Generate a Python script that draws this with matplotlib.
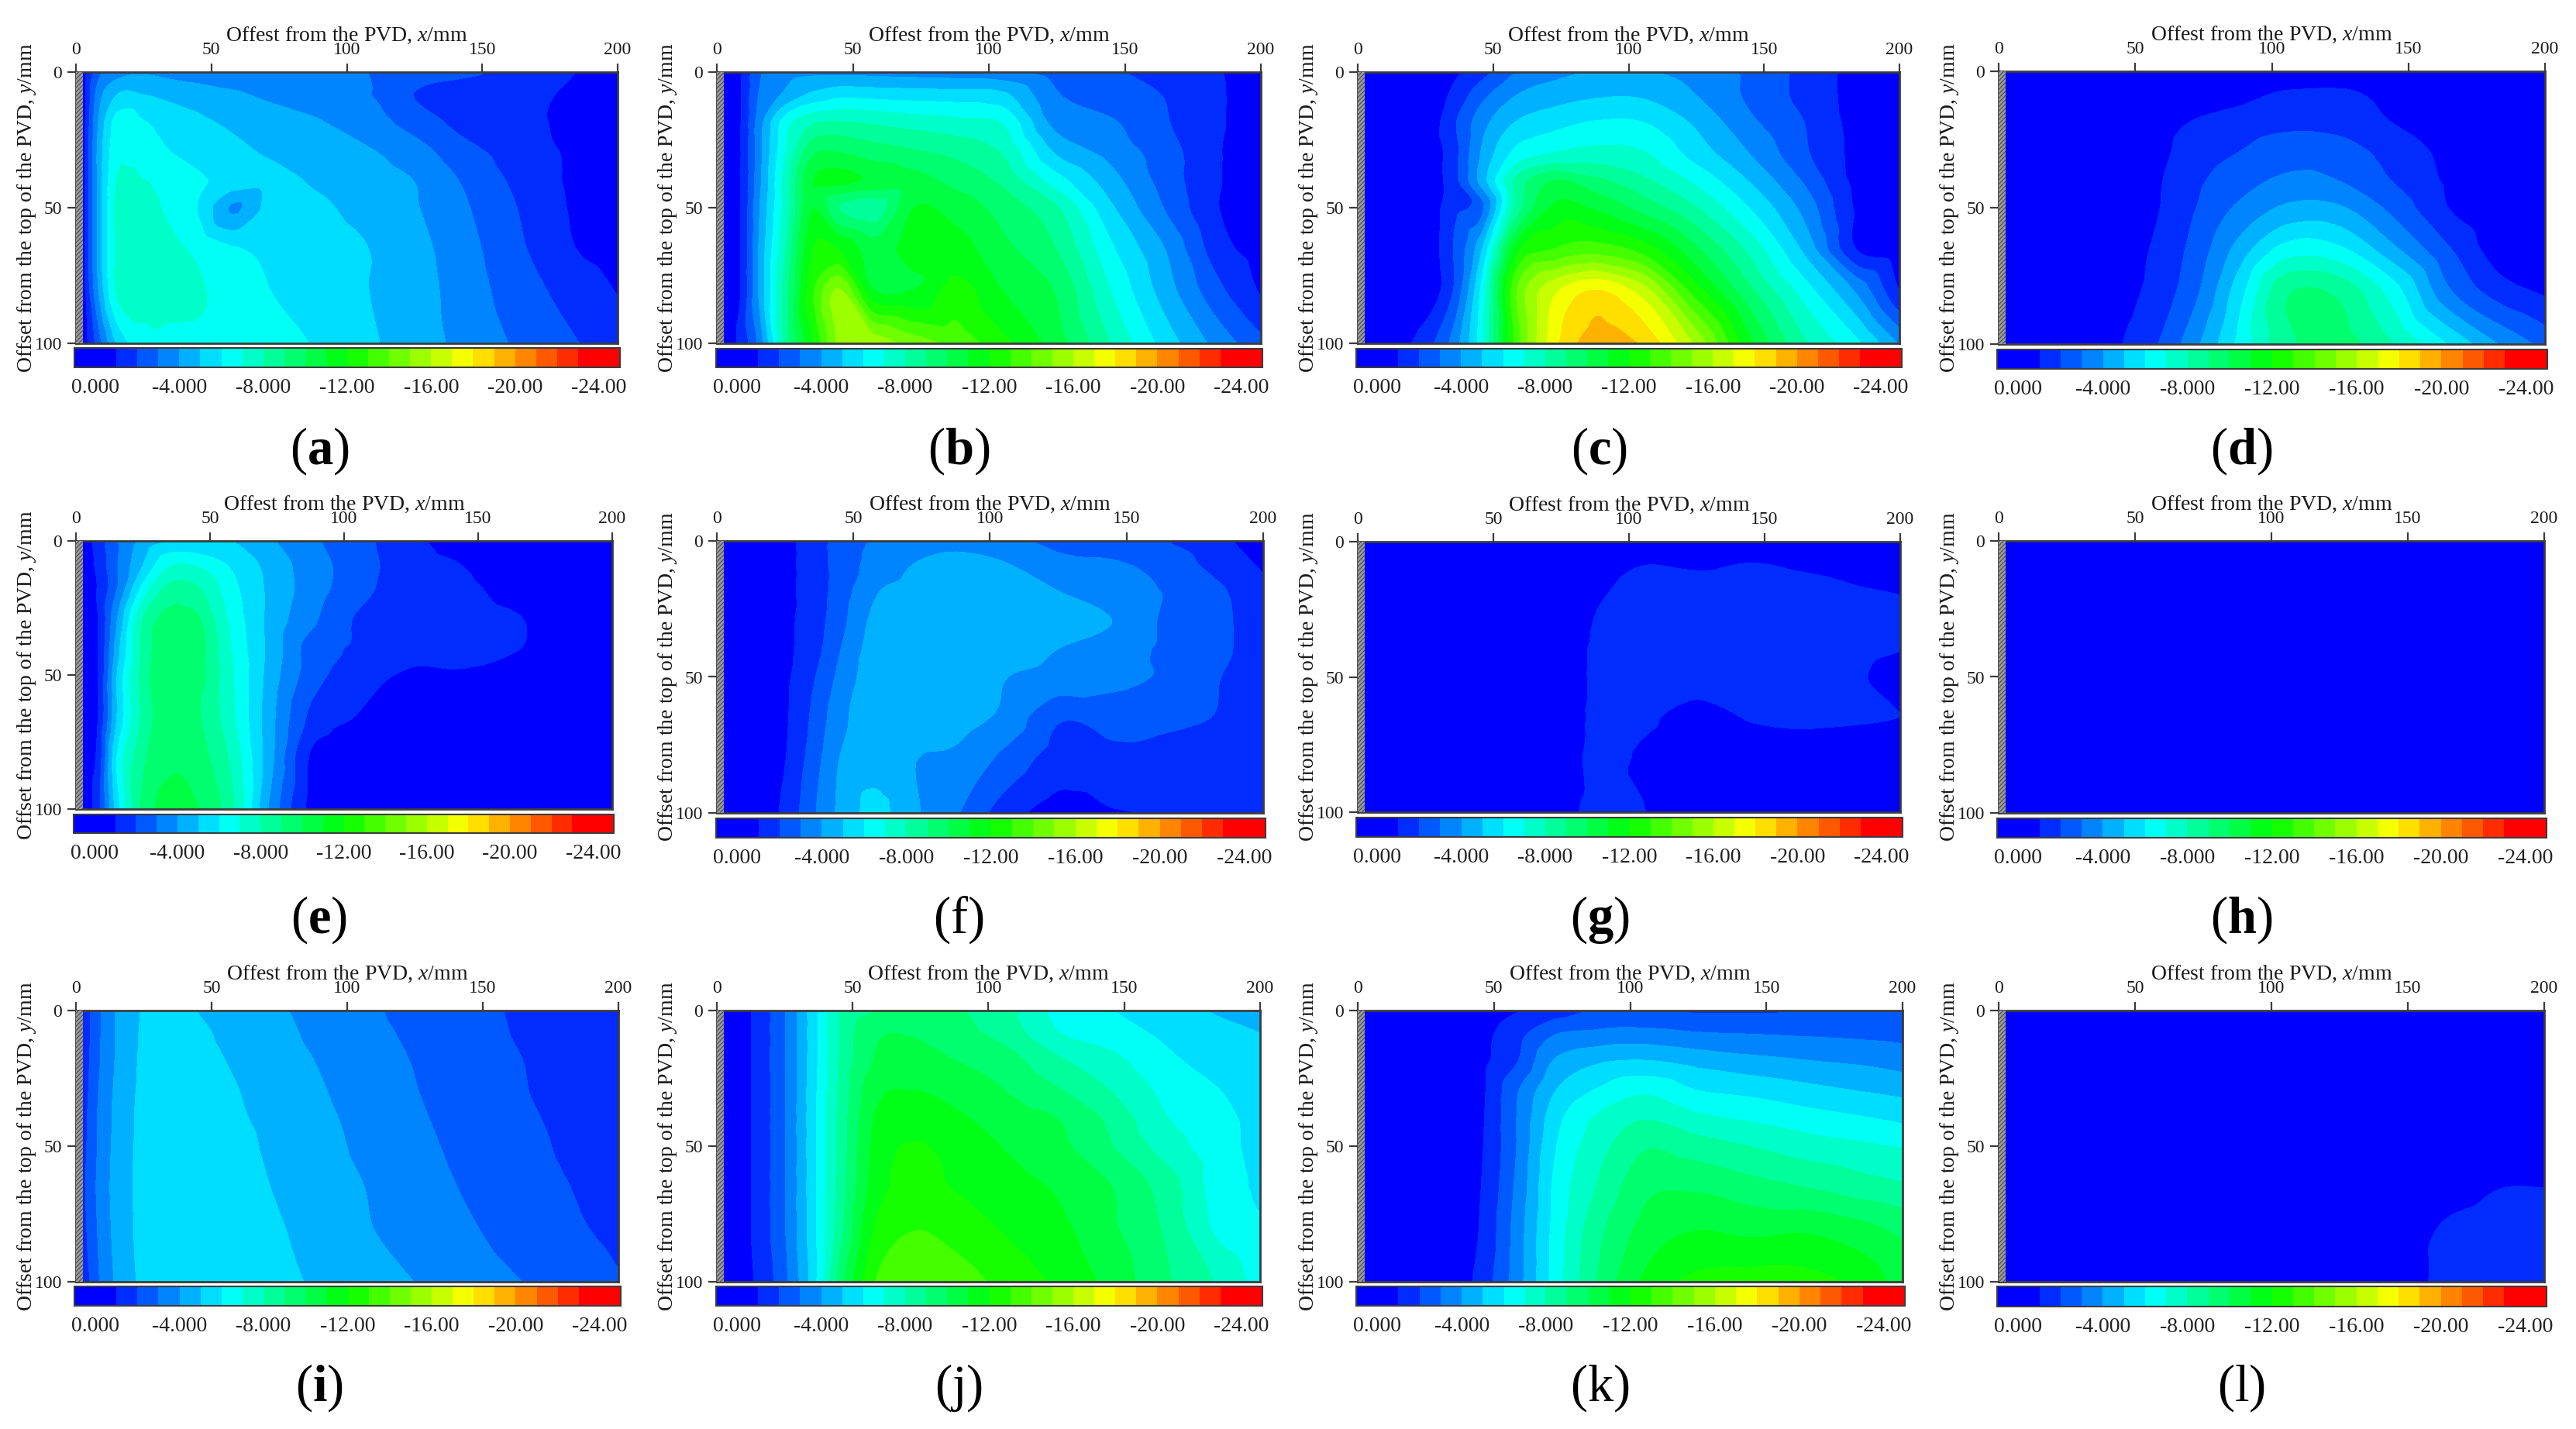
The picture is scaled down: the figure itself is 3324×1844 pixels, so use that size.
import numpy as np
import matplotlib
matplotlib.use("Agg")
import matplotlib.pyplot as plt
import matplotlib.tri as mtri
from matplotlib.colors import BoundaryNorm, ListedColormap
from matplotlib.patches import Rectangle

plt.rcParams['font.family'] = ['Liberation Serif', 'DejaVu Serif']
plt.rcParams['mathtext.fontset'] = 'custom'
plt.rcParams['mathtext.rm'] = 'Liberation Serif'
plt.rcParams['mathtext.it'] = 'Liberation Serif:italic'
plt.rcParams['mathtext.bf'] = 'Liberation Serif:bold'
plt.rcParams['hatch.linewidth'] = 0.8

# 读图得到的网格 (mm)
x_mm = [2.5, 8, 15, 25, 35, 45, 58, 72, 88, 105, 125, 145, 165, 185, 200]
y_mm = [0, 8, 18, 30, 40, 50, 65, 80, 100]

# 每个子图的沉降量绝对值，一行对应一个 y_mm
panel_a = [
    [.5, 2.7, 3.6, 3.9, 3.7, 3.5, 3.4, 3.3, 3.2, 3.05, 2.6, 2.2, 1.6, 1, .5],
    [.5, 3.5, 5, 5, 4.7, 4.5, 4.15, 3.8, 3.5, 3.2, 2, 1.5, 1.25, .85, .5],
    [.6, 4, 6.4, 6.05, 5.6, 5.2, 4.8, 4.45, 4.1, 3.55, 2.6, 1.6, 1.2, .8, .5],
    [.7, 4.3, 6.7, 6.4, 6.05, 5.7, 5.3, 4.9, 4.6, 4.25, 3.5, 2.3, 1.6, .8, .5],
    [.7, 4.3, 7.1, 7.05, 6.6, 6.15, 5.7, 5.35, 4.9, 4.5, 4, 2.8, 1.7, .8, .5],
    [.7, 4.3, 7.3, 7.3, 6.8, 6, 3.9, 5.4, 5.2, 4.75, 4.1, 3.05, 1.9, .85, .5],
    [.7, 4.3, 7.2, 7.4, 7.2, 6.8, 6.1, 5.8, 5.45, 5.1, 4.35, 3.3, 2.1, 1, .6],
    [.6, 4, 7.2, 7.4, 7.3, 7.1, 6.6, 6, 5.5, 5.1, 4.45, 3.45, 2.4, 1.55, .95],
    [.4, 2.5, 5.2, 6.6, 6.8, 6.85, 6.7, 6.4, 5.95, 5.3, 4.5, 3.65, 2.8, 2.05, 1.5],
]
panel_b = [
    [.2, .8, 2.8, 3.6, 3.8, 3.8, 3.7, 3.6, 3.5, 3.3, 2.6, 2.2, 1.5, 1.05, .5],
    [.3, .85, 3, 4.2, 5.2, 5.7, 5.6, 5.5, 5.4, 5.2, 3.1, 2.4, 1.95, 1.1, .5],
    [.3, .85, 3.4, 6.5, 7.8, 8, 7.8, 7.5, 7.25, 6.9, 3.6, 3.1, 2.1, 1.1, .5],
    [.3, .85, 3.5, 7, 9.9, 10.1, 9.6, 9.25, 8.8, 8, 4.95, 3.7, 2.5, 1.05, .5],
    [.3, .85, 3.6, 7.5, 11, 11.3, 10.8, 10.4, 9.7, 8.8, 6.5, 4.45, 2.6, 1.05, .5],
    [.3, .85, 3.8, 7.5, 11, 9, 8.5, 11, 10.6, 9.6, 8.15, 5.2, 2.95, 1, .5],
    [.3, .85, 4, 8, 12, 12, 10.5, 11.5, 11.4, 10.3, 9, 6.2, 4, 1.4, .6],
    [.3, .85, 4, 8.5, 12.8, 15.1, 11, 11, 12.4, 11, 9.9, 7, 4.5, 2.2, .9],
    [.3, 1.2, 3.2, 8.4, 12, 15.3, 15.6, 14.7, 13.7, 12.3, 10.5, 8, 5.6, 3.6, 2.3],
]
panel_c = [
    [0, 0, 0, .2, .8, 1.6, 3, 3.7, 4.1, 4.1, 3.6, 2.8, 1.7, .65, .3],
    [0, 0, 0, .3, 1.2, 2.6, 3.95, 4.5, 4.85, 4.85, 4, 2.8, 1.7, .65, .3],
    [0, 0, 0, .3, 1.8, 3.5, 5, 5.6, 6.05, 6, 4.8, 3.2, 2, .65, .3],
    [0, 0, 0, .3, 1.6, 4, 6.3, 7.1, 7.4, 7.15, 5.6, 4, 2.2, .7, .3],
    [0, 0, 0, .3, 1.6, 4.3, 8.2, 10.1, 9.3, 8.3, 6.8, 4.95, 2.9, .7, .3],
    [0, 0, 0, .3, 1.7, 2.6, 8.3, 11.2, 10.9, 9.7, 8.1, 6, 3.7, .8, .3],
    [0, 0, 0, .3, 2, 4.7, 11.5, 13, 13.5, 12.6, 10.2, 7.7, 4.8, .9, .4],
    [0, 0, 0, .3, 2, 6, 13.8, 16.7, 18, 16.5, 12.4, 9.2, 6.5, 3.7, 1],
    [0, 0, .6, 1.6, 3.4, 6.5, 13.3, 17.6, 19.5, 18.9, 15.8, 11.3, 8.2, 6.2, 4],
]
panel_d = [
    [0, 0, 0, 0, 0, 0, .1, .2, .3, .4, .4, .3, .2, .1, .05],
    [0, 0, 0, 0, 0, 0, .1, .3, .7, 1.1, 1.15, .7, .3, .1, .05],
    [0, 0, 0, 0, 0, .1, .6, 1.05, 1.4, 1.7, 1.6, .95, .4, .1, .1],
    [0, 0, 0, 0, 0, .2, .75, 1.5, 2.05, 2.6, 2.5, 1.6, .75, .2, .1],
    [0, 0, 0, 0, 0, .3, .9, 1.8, 2.6, 3.2, 3, 1.95, .85, .2, .1],
    [0, 0, 0, 0, 0, .3, .95, 2, 3.2, 4.2, 4.15, 2.7, 1, .3, .1],
    [0, 0, 0, 0, 0, .5, 1.2, 2.4, 4.4, 6.4, 6.2, 4.2, 2.1, .4, .1],
    [0, 0, 0, 0, 0, .6, 1.4, 2.8, 5.6, 8.8, 8.7, 6.4, 3.1, 1.4, .8],
    [0, 0, 0, 0, 0, 1, 2, 3.8, 6.3, 8.7, 9.4, 8.05, 6, 3.85, 2.7],
]
panel_e = [
    [.3, 1.5, 2.9, 4.4, 5, 5, 5, 4.2, 3.2, 2.4, 1.25, .6, .2, 0, 0],
    [.3, 1.3, 2.9, 5, 6.8, 6.8, 5.8, 4.7, 3.45, 2.5, 1.4, .95, .3, 0, 0],
    [.4, 1.1, 3, 6.5, 8.4, 8.2, 6.4, 4.85, 3.5, 2.4, 1.4, 1.2, .6, .1, 0],
    [.4, 1, 4, 8.2, 9.4, 9.3, 6.8, 4.8, 3.2, 1.9, 1.6, 1.4, 1.1, .2, 0],
    [.4, 1, 4.5, 8.3, 9.8, 9.6, 7, 4.8, 2.6, 1.85, 1.3, 1.3, 1.05, .2, 0],
    [.4, 1, 5, 8.5, 9.8, 9.5, 7.2, 4.7, 2.5, 1.45, .9, .9, .4, 0, 0],
    [.3, 1, 5, 8.3, 9.7, 9.2, 7.3, 4.5, 1.8, 1, .4, .1, 0, 0, 0],
    [.3, 1.3, 6, 8.8, 9.8, 9.5, 7.8, 4.5, .9, .4, .1, 0, 0, 0, 0],
    [.3, 1.6, 5.5, 9.3, 10.4, 10.1, 8.3, 4, .7, .2, 0, 0, 0, 0, 0],
]
panel_f = [
    [.3, .3, .3, .8, 1.4, 2.5, 3.1, 3.5, 3.7, 3.4, 2.7, 2.45, 2, 1.2, .5],
    [.3, .3, .3, .8, 1.4, 2.5, 3.3, 4, 4.3, 4.05, 3.3, 3.1, 2.6, 1.5, .85],
    [.2, .3, .3, .8, 1.4, 2.5, 3.9, 4.35, 4.6, 4.4, 4, 3.5, 2.9, 2.1, 1.2],
    [.2, .3, .3, .8, 1.5, 2.7, 4.3, 4.6, 4.7, 4.6, 4.3, 4, 2.8, 2.2, 1.4],
    [.2, .3, .3, .8, 1.6, 3, 4.5, 4.7, 4.7, 4.4, 4, 3.5, 2.8, 2.2, 1.4],
    [.2, .3, .3, .85, 1.9, 3.3, 4.6, 4.7, 4.6, 4.05, 3.7, 3.3, 2.85, 2, 1.3],
    [.2, .3, .3, .9, 2.2, 3.7, 4.6, 4.55, 4.4, 3.8, 2.15, 2.4, 2.3, 1.9, 1.3],
    [.2, .3, .3, 1, 2.5, 4.05, 4.6, 4.05, 3.8, 2.8, 1.6, 1.75, 1.5, 1.3, 1.1],
    [.1, .2, .3, 1.3, 2.85, 4.25, 5.3, 4.2, 3.1, 1.55, .6, .95, 1.05, 1.05, 1.05],
]
panel_g = [
    [.5, .5, .5, .5, .5, .5, .5, .5, .5, .5, .5, .5, .5, .5, .5],
    [.5, .5, .5, .5, .5, .5, .5, .5, .6, .98, .9, 1.02, .9, .7, .6],
    [.5, .5, .5, .5, .5, .5, .5, .5, .9, 1.2, 1.25, 1.25, 1.15, 1.05, .97],
    [.5, .5, .5, .5, .5, .5, .5, .5, 1.05, 1.3, 1.3, 1.3, 1.3, 1.2, 1.1],
    [.5, .5, .5, .5, .5, .5, .5, .6, 1.1, 1.3, 1.3, 1.3, 1.25, 1.15, 1.02],
    [.5, .5, .5, .5, .5, .5, .5, .6, 1.1, 1.25, 1.25, 1.25, 1.2, 1.05, .75],
    [.5, .5, .5, .5, .5, .5, .5, .6, 1.1, 1.1, .8, 1.05, 1.1, 1.05, 1],
    [.5, .5, .5, .5, .5, .5, .5, .7, 1.1, .95, .7, .7, .7, .7, .7],
    [.5, .5, .5, .5, .5, .5, .5, .8, 1.1, 1.03, .5, .5, .5, .5, .5],
]
panel_h = [[0] * 15 for row in y_mm]
panel_i = [
    [1.3, 2.8, 4.15, 5.1, 5.35, 5, 4.6, 4.2, 3.75, 3.3, 2.65, 2.3, 1.85, 1.55, 1.3],
    [1.3, 2.8, 4.15, 5.15, 5.4, 5.2, 4.7, 4.3, 3.85, 3.4, 2.8, 2.35, 1.9, 1.6, 1.35],
    [1.4, 2.85, 4.15, 5.2, 5.5, 5.35, 4.9, 4.4, 4, 3.5, 2.95, 2.45, 2, 1.65, 1.4],
    [1.5, 3, 4.25, 5.25, 5.6, 5.5, 5.1, 4.6, 4.15, 3.65, 3.05, 2.55, 2.05, 1.7, 1.45],
    [1.6, 3.1, 4.3, 5.3, 5.65, 5.6, 5.2, 4.75, 4.3, 3.75, 3.15, 2.65, 2.15, 1.75, 1.5],
    [1.7, 3.1, 4.35, 5.3, 5.7, 5.65, 5.35, 4.85, 4.4, 3.85, 3.25, 2.75, 2.25, 1.8, 1.55],
    [1.8, 3.2, 4.4, 5.3, 5.7, 5.65, 5.45, 5, 4.5, 4.05, 3.4, 2.9, 2.4, 1.95, 1.65],
    [1.7, 3.1, 4.35, 5.3, 5.7, 5.7, 5.5, 5.15, 4.7, 4.15, 3.55, 3.1, 2.55, 2.1, 1.75],
    [1.3, 2.9, 4.2, 5.25, 5.65, 5.65, 5.45, 5.3, 4.9, 4.45, 4, 3.5, 3, 2.55, 2.1],
]
panel_j = [
    [.3, .5, 1.35, 3, 5.5, 8, 9, 9.2, 9.1, 8.4, 6.75, 6.05, 5.5, 4.9, 4.5],
    [.3, .5, 1.35, 3, 5.5, 8.1, 9.8, 9.9, 9.3, 8.7, 7.1, 6.5, 5.8, 5.3, 5],
    [.3, .5, 1.35, 3, 5.5, 8.1, 10.1, 10.5, 10, 9.55, 8.2, 7.3, 6.25, 5.6, 5.3],
    [.3, .5, 1.35, 3, 5.6, 8.2, 10.7, 11.05, 10.7, 10.1, 9.2, 8.05, 6.8, 6.05, 5.5],
    [.3, .5, 1.35, 3, 5.6, 8.3, 11.1, 11.5, 11.2, 10.6, 10.05, 8.8, 7.1, 6.3, 5.7],
    [.3, .5, 1.35, 3, 5.6, 8.3, 11.3, 12.1, 11.6, 11, 10.3, 9.1, 7.6, 6.4, 5.7],
    [.3, .5, 1.35, 3, 5.6, 8.4, 11.5, 12.2, 11.95, 11.45, 10.9, 10.05, 8.6, 6.5, 5.85],
    [.3, .5, 1.35, 3, 5.6, 8.6, 12.1, 12.95, 12.6, 11.95, 11.3, 10.2, 8.9, 6.75, 6.15],
    [.3, .5, 1.2, 2.8, 5.5, 9.5, 13, 13.7, 13.5, 12.75, 11.85, 10.7, 9.2, 7.85, 6.6],
]
panel_k = [
    [0, 0, 0, .1, .3, .5, .95, 1.5, 2.1, 2, 1.9, 1.9, 2, 2, 2],
    [0, 0, 0, .1, .3, .7, 1.6, 2.9, 3.2, 3.3, 3.05, 2.95, 2.85, 2.75, 2.65],
    [0, 0, 0, .1, .3, .75, 1.9, 4.05, 4.8, 5, 4.6, 4.25, 4, 3.8, 3.55],
    [0, 0, 0, .1, .3, .8, 2.9, 5, 6.2, 6.9, 6.1, 5.8, 5.4, 5.05, 4.8],
    [0, 0, 0, .1, .3, .85, 3, 5.6, 7.2, 8, 7.3, 6.9, 6.5, 6.15, 5.85],
    [0, 0, 0, .1, .3, .9, 3, 5.9, 7.6, 8.9, 8.5, 8, 7.5, 7.2, 6.95],
    [0, 0, 0, .1, .3, 1, 3.2, 6.2, 8.1, 9.7, 9.85, 9.4, 9, 8.5, 8.2],
    [0, 0, 0, .1, .3, 1.1, 3.4, 6.3, 8.7, 10.3, 10.95, 10.7, 10.8, 10.3, 9.7],
    [0, 0, 0, .1, .4, 1.4, 3.5, 6.4, 9.1, 11.2, 12.3, 12.5, 12.4, 11.7, 10.6],
]
panel_l = [
    [.3] * 15,
    [.3] * 15,
    [.3] * 15,
    [.3] * 15,
    [.3] * 15,
    [.3, .3, .3, .3, .3, .3, .3, .3, .3, .3, .3, .3, .4, .5, .5],
    [.3, .3, .3, .3, .3, .3, .3, .3, .3, .3, .3, .4, .7, 1, 1],
    [.3, .3, .3, .3, .3, .3, .3, .3, .3, .3, .4, .6, 1.1, 1.3, 1.3],
    [.3, .3, .3, .3, .3, .3, .3, .3, .3, .3, .5, .75, 1.15, 1.4, 1.4],
]
panels = [panel_a, panel_b, panel_c, panel_d, panel_e, panel_f,
          panel_g, panel_h, panel_i, panel_j, panel_k, panel_l]
letters = list("abcdefghijkl")
bold_letter = [1, 1, 1, 1, 1, 0, 1, 1, 1, 0, 0, 0]

levels = [-25] + list(range(-23, 0)) + [1]
cb_ticks = [0, -4, -8, -12, -16, -20, -24]
cb_labels = ["0.000", "-4.000", "-8.000", "-12.00", "-16.00", "-20.00", "-24.00"]
x_ticks = [0, 50, 100, 150, 200]
y_ticks = [0, 50, 100]

# 像素布局: 坐标轴 x0,x1,y0,y1 ; 色标 x0,x1,y0,y1
W, H = 3324, 1844
layout = [
    (98, 797, 93, 443, 96, 800, 449, 474),
    (925, 1627, 93, 443, 924, 1629, 450, 474),
    (1752, 2451, 93, 443, 1750, 2454, 450, 474),
    (2579, 3284, 92, 444, 2577, 3287, 451, 476),
    (98, 790, 698, 1044, 95, 792, 1051, 1075),
    (925, 1630, 698, 1049, 924, 1633, 1056, 1081),
    (1752, 2452, 699, 1048, 1750, 2455, 1055, 1080),
    (2579, 3283, 698, 1049, 2577, 3286, 1056, 1081),
    (98, 798, 1304, 1654, 96, 801, 1660, 1685),
    (925, 1626, 1304, 1654, 924, 1629, 1660, 1685),
    (1752, 2455, 1304, 1654, 1750, 2458, 1660, 1685),
    (2579, 3283, 1304, 1654, 2577, 3286, 1660, 1686),
]
letter_x = [412, 1237, 2064, 2892] * 3
letter_y = [582] * 4 + [1187] * 4 + [1791] * 4

# 蓝-青-绿-黄-红 的24级色带，顺序与 levels 对应 (从 -25 到 1)
anchors = np.array([[0, 0, 1], [0, 1, 1], [0, 1, 0], [1, 1, 0], [1, 0, 0]], dtype=float)
t = np.arange(24) / 23 * 4
band_colors = np.array([np.interp(t, np.arange(5), anchors[:, c]) for c in range(3)]).T
cmap = ListedColormap(band_colors[::-1])

EDGE = '#3c3c3c'


def px_axes(fig, x0, x1, y0, y1):
    return fig.add_axes([x0 / W, 1 - y1 / H, (x1 - x0) / W, (y1 - y0) / H])


fig = plt.figure(figsize=(W / 100, H / 100), dpi=100, facecolor='white')

xx, yy = np.meshgrid(x_mm, y_mm)
tri = mtri.Triangulation(xx.ravel(), yy.ravel())

for i, table in enumerate(panels):
    ax0, ax1, ay0, ay1, cx0, cx1, cy0, cy1 = layout[i]
    ax = px_axes(fig, ax0, ax1, ay0, ay1)
    z = -np.array(table, dtype=float).ravel()

    # 每个子图一个 norm，共用的话色标刻度文字会被重置
    norm = BoundaryNorm(levels, cmap.N)

    # 用库自带的细分把等值线画圆滑
    interp = mtri.CubicTriInterpolator(tri, z, kind='geom')
    tri2, z2 = mtri.UniformTriRefiner(tri).refine_field(z, triinterpolator=interp, subdiv=3)
    cs = ax.tricontourf(tri2, np.clip(z2, -24.9, 0.9), levels=levels, cmap=cmap, norm=norm)

    # 左侧的排水板
    ax.add_patch(Rectangle((0, 0), x_mm[0], 100, facecolor='#9a9a9a', edgecolor='#4a4a4a',
                           hatch='//////', linewidth=0, zorder=3))
    ax.set_xlim(0, 200)
    ax.set_ylim(100, 0)
    ax.xaxis.tick_top()
    ax.xaxis.set_label_position('top')
    ax.set_xticks(x_ticks)
    ax.set_yticks(y_ticks)
    ax.tick_params(axis='both', direction='out', length=8, width=1.6, color=EDGE,
                   labelsize=17, pad=5, labelcolor='#1a1a1a')
    for s in ax.spines.values():
        s.set_color(EDGE)
        s.set_linewidth(2)
    ax.set_xlabel(r"Offest from the PVD, $\mathit{x}$/mm", fontsize=20, labelpad=1, color='#1a1a1a')
    ax.set_ylabel(r"Offset from the top of the PVD, $\mathit{y}$/mm", fontsize=20, color='#1a1a1a')
    ax.yaxis.set_label_coords(-49 / (ax1 - ax0), 0.5)

    cax = px_axes(fig, cx0, cx1, cy0, cy1)
    cb = fig.colorbar(cs, cax=cax, orientation='horizontal', spacing='proportional', ticks=cb_ticks)
    cax.invert_xaxis()
    cb.set_ticklabels(cb_labels)
    cb.ax.minorticks_off()
    cb.ax.tick_params(length=0, labelsize=20, pad=10, labelcolor='#222222')
    cb.outline.set_edgecolor(EDGE)
    cb.outline.set_linewidth(1.5)

    if bold_letter[i]:
        label = "(" + r"$\mathbf{%s}$" % letters[i] + ")"
    else:
        label = "(" + r"$\mathrm{%s}$" % letters[i] + ")"
    fig.text(letter_x[i] / W, 1 - letter_y[i] / H, label, fontsize=48,
             ha='center', va='center', color='black')

fig.savefig("out.png", dpi=100)
